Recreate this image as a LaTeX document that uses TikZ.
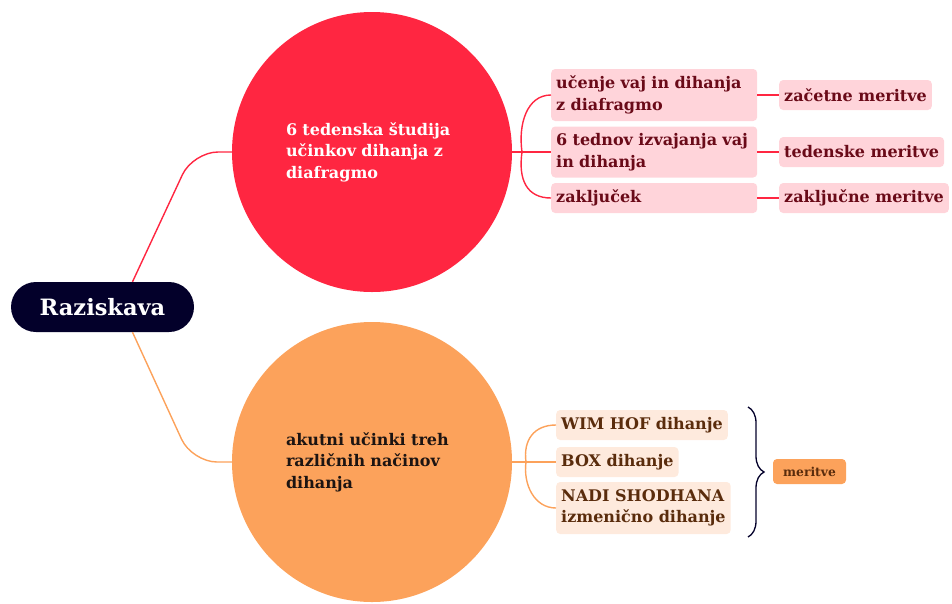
\documentclass[tikz,border=0pt]{standalone}
\usepackage{fontspec}
\setmainfont{DejaVu Serif}
\usetikzlibrary{decorations.pathreplacing}

\definecolor{navy}{HTML}{03002A}
\definecolor{redc}{HTML}{FF2641}
\definecolor{orangec}{HTML}{FCA25B}
\definecolor{pinkc}{HTML}{FFD4DA}
\definecolor{peachc}{HTML}{FEEADD}
\definecolor{wine}{HTML}{6A0A18}
\definecolor{brownc}{HTML}{5A2C0C}
\definecolor{inkc}{HTML}{1C1412}

\tikzset{
  rootbox/.style={fill=navy, text=white, rounded corners=25pt,
    minimum width=183pt, minimum height=50pt,
    font=\fontsize{22.5}{26}\selectfont\bfseries},
  bigcircle/.style={circle, minimum size=280pt, inner sep=0pt,
    text width=172pt, align=left,
    font=\fontsize{16}{21.5}\selectfont\bfseries},
  pinkbox/.style={anchor=west, fill=pinkc, text=wine, rounded corners=4pt,
    inner xsep=5pt, inner ysep=0pt, minimum height=30pt, align=left,
    font=\fontsize{16}{21.5}\selectfont\bfseries},
  peachbox/.style={pinkbox, fill=peachc, text=brownc},
  redline/.style={draw=redc, line width=1.4pt},
  orangeline/.style={draw=orangec, line width=1.4pt},
}

\begin{document}
\begin{tikzpicture}[x=1pt, y=-1pt]
\useasboundingbox (0,0) rectangle (952,603);

\node[rootbox] (root) at (102.5,307) {Raziskava};
\node[bigcircle, fill=redc, text=white] (study) at (372,152)
  {6 tedenska študija\\ učinkov dihanja z\\ diafragmo};
\node[bigcircle, fill=orangec, text=inkc] (acute) at (372,462)
  {akutni učinki treh\\ različnih načinov\\ dihanja};

% root to the two studies
\draw[redline, rounded corners=25pt] ([xshift=30pt]root.north) -- (193,152) -- (study.west);
\draw[orangeline, rounded corners=25pt] ([xshift=30pt]root.south) -- (192,462) -- (acute.west);

% first study
\node[pinkbox, text width=196pt, minimum height=52pt] (learn) at (551,95)
  {učenje vaj in dihanja\\ z diafragmo};
\node[pinkbox, text width=196pt, minimum height=51pt] (weeks) at (551,152)
  {6 tednov izvajanja vaj\\ in dihanja};
\node[pinkbox, text width=196pt] (concl) at (551,198) {zaključek};
\node[pinkbox] (startm) at (779,95) {začetne meritve};
\node[pinkbox] (weekm) at (779,152) {tedenske meritve};
\node[pinkbox] (endm) at (779,198) {zaključne meritve};

\coordinate (rsplit) at (522,152);
\draw[redline] (study.east) -- (weeks.west);
\foreach \n/\d in {learn/-1, concl/1}
  \draw[redline] (rsplit) .. controls +(-4,28*\d) and +(-24,0) .. (\n.west);
\foreach \a/\b in {learn/startm, weeks/weekm, concl/endm}
  \draw[redline] (\a.east) -- (\b.west);

% second study
\node[peachbox] (wimhof) at (556,425) {WIM HOF dihanje};
\node[peachbox] (boxb) at (556,462) {BOX dihanje};
\node[peachbox, minimum height=52pt] (nadi) at (556,508)
  {NADI SHODHANA\\ izmenično dihanje};

\coordinate (osplit) at (526,462);
\draw[orangeline] (acute.east) -- (boxb.west);
\foreach \n/\d in {wimhof/-1, nadi/1}
  \draw[orangeline] (osplit) .. controls +(-3,22*\d) and +(-22,0) .. (\n.west);

\draw[navy, line width=1.3pt, decorate, decoration={brace, amplitude=16pt}]
  (748,407) -- (748,537);
\node[fill=orangec, text=brownc, rounded corners=4pt, minimum width=73pt,
  minimum height=25pt, font=\fontsize{12.3}{14}\selectfont\bfseries]
  (meas) at (809.5,471.5) {meritve};
\end{tikzpicture}
\end{document}
